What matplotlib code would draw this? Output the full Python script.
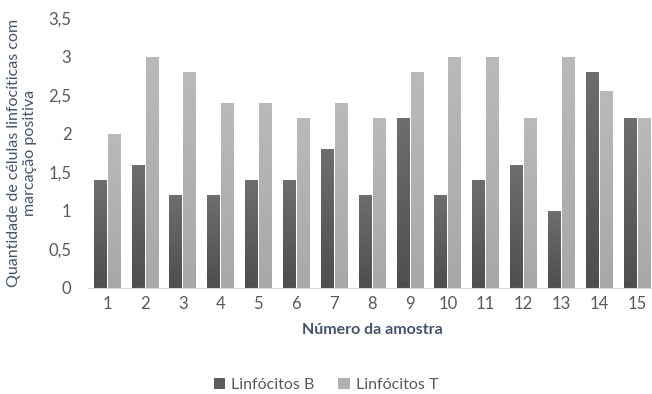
import numpy as np
import matplotlib
matplotlib.use("Agg")
from matplotlib import pyplot as plt

plt.rcParams['font.family'] = ['Lato', 'DejaVu Sans']

amostras = [str(i) for i in range(1, 16)]
linf_b = [1.4, 1.6, 1.2, 1.2, 1.4, 1.4, 1.8, 1.2, 2.2, 1.2, 1.4, 1.6, 1.0, 2.8, 2.2]
linf_t = [2.0, 3.0, 2.8, 2.4, 2.4, 2.2, 2.4, 2.2, 2.8, 3.0, 3.0, 2.2, 3.0, 2.55, 2.2]
yticks = [0, 0.5, 1, 1.5, 2, 2.5, 3, 3.5]
ytick_labels = ['0', '0,5', '1', '1,5', '2', '2,5', '3', '3,5']

fig = plt.figure(figsize=(6.52, 3.94), dpi=100)
ax = fig.add_axes([88/652, (394-288)/394, 568/652, 270/394])

x = np.arange(len(amostras))
w = 0.33
bars_b = ax.bar(x - w/2 - 0.02, linf_b, w, color='#5c5c5c', label='Linfócitos B')
bars_t = ax.bar(x + w/2 + 0.02, linf_t, w, color='#b0b0b0', label='Linfócitos T')

# soft vertical gradient inside each bar (lighter near the top)
grad = np.linspace(0, 1, 256).reshape(-1, 1)
for bars, cmap_cols in [(bars_b, ['#4e4e4e', '#6e6e6e']), (bars_t, ['#a8a8a8', '#bababa'])]:
    cmap = matplotlib.colors.LinearSegmentedColormap.from_list('g', cmap_cols)
    for b in bars:
        x0, y0 = b.get_x(), b.get_y()
        im = ax.imshow(grad, extent=[x0, x0 + b.get_width(), y0, y0 + b.get_height()],
                       origin='lower', aspect='auto', cmap=cmap, zorder=b.get_zorder())
        im.set_clip_path(b)

ax.set_xlim(-0.5, len(amostras) - 0.5)
ax.set_ylim(0, 3.5)
ax.set_yticks(yticks)
ax.set_yticklabels(ytick_labels)
ax.set_xticks(x)
ax.set_xticklabels(amostras)
ax.tick_params(length=0, labelsize=12, colors='#595959', pad=6)
ax.tick_params(axis='y', pad=12)
for s in ['top', 'right', 'left']:
    ax.spines[s].set_visible(False)
ax.spines['bottom'].set_color('#d9d9d9')

ax.set_xlabel('Número da amostra', fontsize=11.5, fontweight='bold', color='#44546a', labelpad=8)
ax.set_ylabel('Quantidade de células linfocíticas com\nmarcação positiva', fontsize=11.5,
              color='#44546a', labelpad=8)

fig.legend(loc='center', bbox_to_anchor=(0.5, 9/394), ncol=2, frameon=False,
           fontsize=11.5, handlelength=0.7, handleheight=0.7, columnspacing=1.5,
           handletextpad=0.4, labelcolor='#595959')

fig.savefig('out.png', dpi=100)
